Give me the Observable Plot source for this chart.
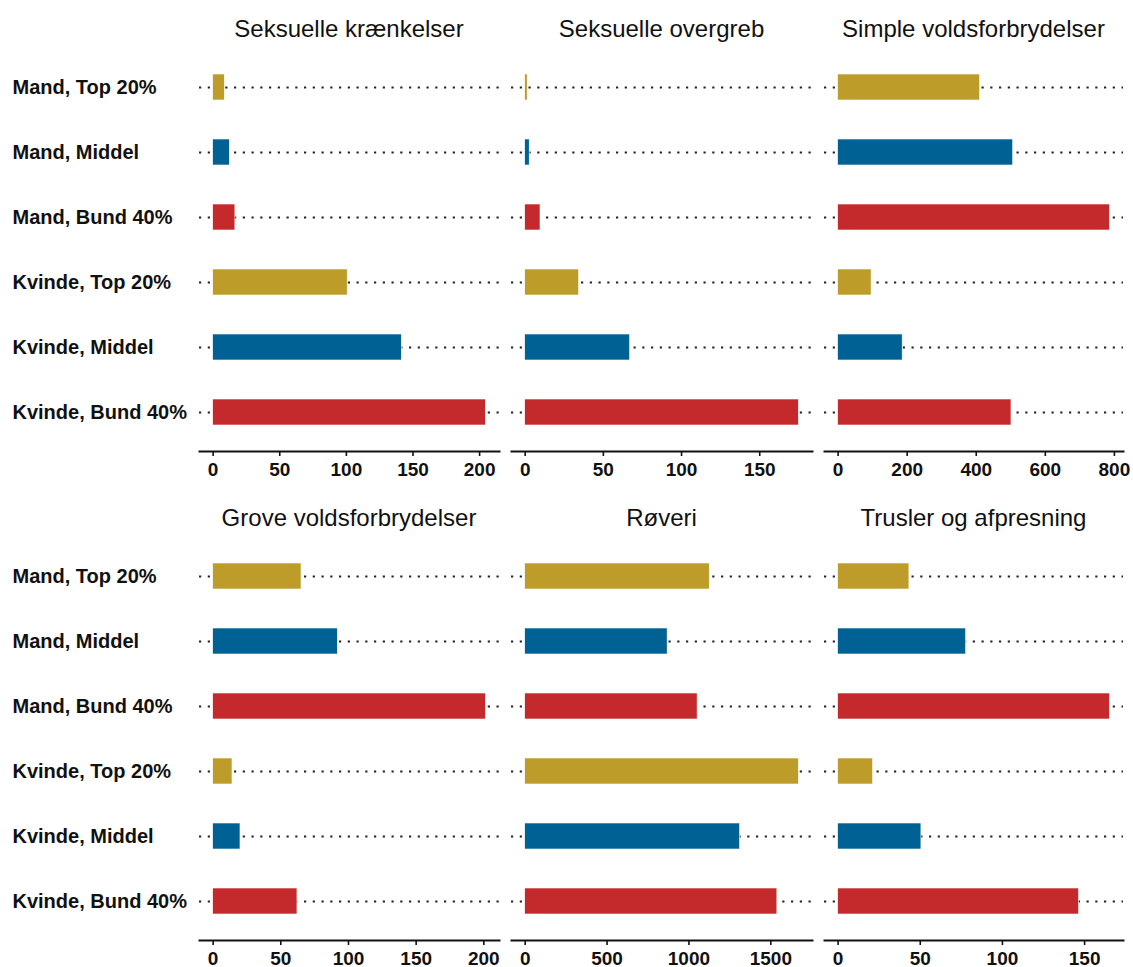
<!DOCTYPE html>
<html><head><meta charset="utf-8">
<script src="https://cdn.jsdelivr.net/npm/d3@7"></script>
<script src="https://cdn.jsdelivr.net/npm/@observablehq/plot@0.6"></script>
<style>
body{margin:0;background:#fff;}
#chart{position:relative;width:1133px;height:967px;font-family:"Liberation Sans",Arial,sans-serif;}
.title{position:absolute;font-size:24px;line-height:24px;text-align:center;color:#111;white-space:nowrap;transform:translateX(-50%);}
.panel{position:absolute;}
</style></head><body><div id="chart"></div>
<script>
// ---- data ----
const groups = ["Mand, Top 20%","Mand, Middel","Mand, Bund 40%","Kvinde, Top 20%","Kvinde, Middel","Kvinde, Bund 40%"];
const levels = ["Top 20%","Middel","Bund 40%","Top 20%","Middel","Bund 40%"];
const levelDomain = ["Top 20%","Middel","Bund 40%"];
const levelColors = ["#BD9C2A","#006194","#C42A2B"];
const crimes = ["Seksuelle krænkelser","Seksuelle overgreb","Simple voldsforbrydelser","Grove voldsforbrydelser","Røveri","Trusler og afpresning"];
const seksuelleKraenkelser = [8.8, 12.5, 16.7, 101, 141.6, 204.7];
const seksuelleOvergreb = [1.6, 2.9, 9.8, 34.5, 67.1, 175.0];
const simpleVold = [411, 507, 787, 97, 187, 502];
const groveVold = [65.3, 92.1, 201.5, 14.3, 20.2, 62.3];
const roveri = [1127, 870, 1053, 1671, 1312, 1540];
const trusler = [43.4, 77.9, 165.4, 21.3, 50.7, 146.6];
const seriesValues = [seksuelleKraenkelser, seksuelleOvergreb, simpleVold, groveVold, roveri, trusler];
const tickLabels = [
  [0,50,100,150,200],
  [0,50,100,150],
  [0,200,400,600,800],
  [0,50,100,150,200],
  [0,500,1000,1500],
  [0,50,100,150]
];

// ---- layout ----
const colLeft = [199, 511, 824], colRight = [499, 812, 1123];
const rowTop = [48, 537], rowBottom = [451, 940];
const titleTop = [16.5, 506];
const chart = document.getElementById("chart");
const font = "Liberation Sans, Arial, sans-serif";

crimes.forEach((crime, i) => {
  const col = i % 3, row = Math.floor(i / 3);
  const values = seriesValues[i];
  const rows = groups.map((g, j) => ({group: g, level: levels[j], value: values[j]}));
  const max = d3.max(values);
  const ml = col === 0 ? colLeft[0] : 5, mr = 5, mt = 10, mb = 45;
  const pw = colRight[col] - colLeft[col];
  const ph = rowBottom[row] - rowTop[row];
  const width = ml + pw + mr, height = mt + ph + mb;
  const svg = Plot.plot({
    width, height, marginLeft: ml, marginRight: mr, marginTop: mt, marginBottom: mb,
    x: {domain: [-0.05 * max, 1.05 * max], label: null, axis: null},
    y: {domain: groups, paddingInner: 0.6, paddingOuter: 0.4, axis: null},
    color: {domain: levelDomain, range: levelColors},
    style: {background: "transparent", fontFamily: font, overflow: "visible"},
    marks: [
      Plot.ruleY(groups, {y: d => d, stroke: "#222", strokeWidth: 2.2, strokeDasharray: "2.2,6.55"}),
      Plot.barX(rows, {x: "value", y: "group", fill: "level", stroke: "white", strokeWidth: 0.6}),
      Plot.axisX({ticks: tickLabels[i], tickFormat: d3.format("d"), tickSize: 5, tickPadding: 6,
        strokeWidth: 1.6, fontSize: 19, fontWeight: "bold", color: "#111", label: null}),
      Plot.frame({anchor: "bottom", stroke: "#111", strokeWidth: 2}),
      col === 0 ? Plot.text(groups, {y: d => d, text: d => d, frameAnchor: "left", dx: 12 - ml,
        textAnchor: "start", fontSize: 20, fontWeight: "bold", fill: "#111"}) : null
    ]
  });
  const div = document.createElement("div");
  div.className = "panel";
  div.style.left = (colLeft[col] - ml) + "px";
  div.style.top = (rowTop[row] - mt) + "px";
  div.style.width = width + "px";
  div.appendChild(svg);
  chart.appendChild(div);
  const t = document.createElement("div");
  t.className = "title";
  t.textContent = crime;
  t.style.left = ((colLeft[col] + colRight[col]) / 2) + "px";
  t.style.top = titleTop[row] + "px";
  chart.appendChild(t);
});
</script></body></html>
